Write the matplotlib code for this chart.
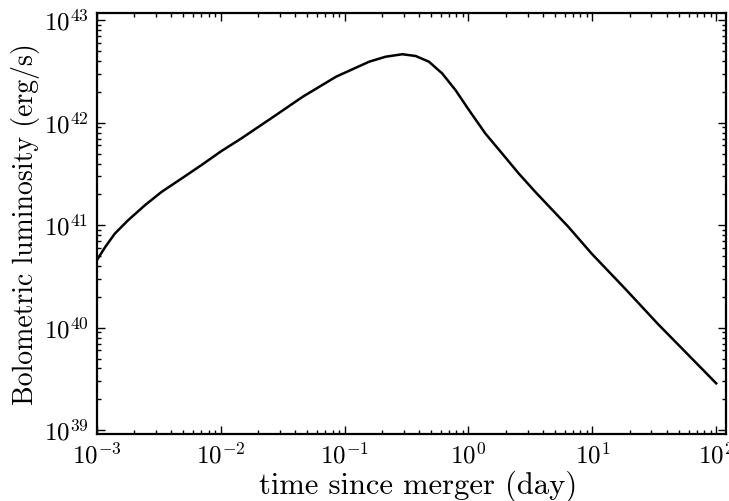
import matplotlib
matplotlib.use("Agg")
import matplotlib.pyplot as plt


# time since merger (day)
t_day = [
    1.00e-3, 1.17e-3, 1.40e-3, 1.79e-3, 2.45e-3, 3.33e-3, 4.83e-3, 6.98e-3,
    1.01e-2, 1.47e-2, 2.72e-2, 4.59e-2, 8.53e-2, 0.158, 0.215, 0.293,
    0.375, 0.480, 0.614, 0.787, 1.01, 1.37, 1.87, 2.55, 3.47, 6.43,
    9.89, 18.4, 34.0, 75.9, 100.0
]

# bolometric luminosity (erg/s)
L_bol = [
    4.54e40, 6.12e40, 8.28e40, 1.117e41, 1.567e41, 2.11e41, 2.85e41, 3.85e41,
    5.27e41, 7.03e41, 1.161e42, 1.79e42, 2.81e42, 3.94e42, 4.41e42, 4.66e42,
    4.48e42, 3.94e42, 3.03e42, 2.08e42, 1.33e42, 7.85e41, 5.01e41, 3.19e41,
    2.11e41, 9.59e40, 5.27e40, 2.40e40, 1.08e40, 4.02e39, 2.86e39
]


plt.rcParams["font.family"] = "serif"
plt.rcParams["font.serif"] = ["cmr10", "DejaVu Serif"]
plt.rcParams["mathtext.fontset"] = "cm"
plt.rcParams["axes.formatter.use_mathtext"] = True

fig = plt.figure(figsize=(7.29, 5.01), dpi=100)
ax = fig.add_axes([0.1327, 0.1331, 0.8632, 0.8404])

ax.plot(t_day, L_bol, color="black", lw=1.8)

ax.set_xscale("log")
ax.set_yscale("log")
ax.set_xlim(1e-3, 1.2e2)
ax.set_ylim(9.1e38, 1.17e43)

ax.set_xlabel("time since merger (day)", fontsize=22)
ax.set_ylabel("Bolometric luminosity (erg/s)", fontsize=20)
ax.xaxis.set_label_coords(0.51, -0.085)
ax.yaxis.set_label_coords(-0.09, 0.5)

ax.tick_params(which="both", direction="in", top=True, right=True,
               labelsize=18, width=1)
ax.tick_params(which="major", length=6, pad=6)
ax.tick_params(which="minor", length=3)

for s in ax.spines.values():
    s.set_linewidth(1.6)

fig.savefig("out.png", dpi=100)
